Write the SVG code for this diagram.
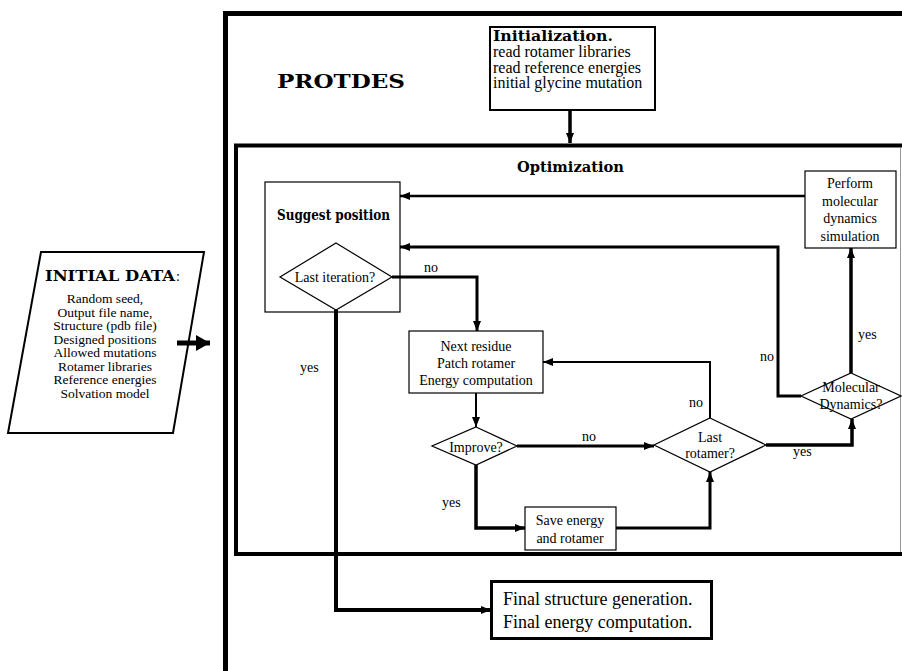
<svg xmlns="http://www.w3.org/2000/svg" width="902" height="671" viewBox="0 0 902 671">
<style>
.t{font-family:"Liberation Serif","Times New Roman",serif;fill:#000}
.b{font-family:"DejaVu Serif","Liberation Serif",serif;font-weight:bold;fill:#000}
.box{fill:#fff;stroke:#000}
.c{fill:none;stroke:#000}
.m{text-anchor:middle}
</style>
<defs>
<marker id="ah" markerUnits="userSpaceOnUse" markerWidth="10" markerHeight="8" refX="10" refY="4" orient="auto"><path d="M0,0 L10,4 L0,8 z" fill="#000"/></marker>
<marker id="big" markerUnits="userSpaceOnUse" markerWidth="14" markerHeight="16" refX="14" refY="8" orient="auto"><path d="M0,0 L14,8 L0,16 z" fill="#000"/></marker>
</defs>
<rect width="902" height="671" fill="#fff"/>

<g id="protdes">
<rect x="225.5" y="13.5" width="720" height="720" fill="none" stroke="#000" stroke-width="5"/>
<text class="b" x="277" y="88" font-size="18" textLength="128" lengthAdjust="spacingAndGlyphs">PROTDES</text>
</g>

<g id="optimization">
<rect x="236" y="145.5" width="720" height="408.5" fill="none" stroke="#000" stroke-width="4"/>
<line x1="900.5" y1="148" x2="900.5" y2="552" stroke="#999" stroke-width="1"/>
<text class="b" x="517" y="172" font-size="15" textLength="107" lengthAdjust="spacingAndGlyphs">Optimization</text>
</g>

<g id="initial-data">
<path d="M41,252 L204,252 L173,433 L8,433 Z" class="box" stroke-width="2"/>
<text class="b" x="45" y="281" font-size="14" textLength="130" lengthAdjust="spacingAndGlyphs">INITIAL DATA</text>
<text class="t" x="176" y="281" font-size="14">:</text>
<g class="t m" font-size="13.5">
<text x="105" y="303">Random seed,</text>
<text x="105" y="316.5">Output file name,</text>
<text x="105" y="330">Structure (pdb file)</text>
<text x="105" y="343.5">Designed positions</text>
<text x="105" y="357">Allowed mutations</text>
<text x="105" y="370.5">Rotamer libraries</text>
<text x="105" y="384">Reference energies</text>
<text x="105" y="397.5">Solvation model</text>
</g>
</g>

<g id="initialization">
<rect x="490" y="27" width="165" height="83" class="box" stroke-width="2"/>
<text class="b" x="493" y="41" font-size="14" textLength="120" lengthAdjust="spacingAndGlyphs">Initialization.</text>
<text class="t" x="493" y="57" font-size="16">read rotamer libraries</text>
<text class="t" x="493" y="72.5" font-size="16">read reference energies</text>
<text class="t" x="493" y="88" font-size="16">initial glycine mutation</text>
</g>

<g id="suggest-position">
<rect x="265" y="182" width="135" height="130" class="box" stroke-width="1.2"/>
<text class="b" x="277" y="220" font-size="14" textLength="113" lengthAdjust="spacingAndGlyphs">Suggest position</text>
</g>

<g id="last-iteration">
<path d="M336,243 L392,277 L336,310 L280,277 Z" class="box" stroke-width="1.2"/>
<text class="t m" x="335" y="282" font-size="14">Last iteration?</text>
</g>

<g id="perform-md">
<rect x="805" y="171" width="91" height="77" class="box" stroke-width="1.2"/>
<g class="t m" font-size="14">
<text x="850" y="188">Perform</text>
<text x="850" y="205.5">molecular</text>
<text x="850" y="223">dynamics</text>
<text x="850" y="240.5">simulation</text>
</g>
</g>

<g id="next-residue">
<rect x="409" y="331" width="134" height="62" class="box" stroke-width="1.2"/>
<g class="t m" font-size="14">
<text x="476" y="351">Next residue</text>
<text x="476" y="368">Patch rotamer</text>
<text x="476" y="385">Energy computation</text>
</g>
</g>

<g id="improve">
<path d="M476,427 L517,446 L476,465 L432,446 Z" class="box" stroke-width="1.2"/>
<text class="t m" x="476" y="452" font-size="14">Improve?</text>
</g>

<g id="last-rotamer">
<path d="M710,418 L766,445 L710,472 L654,445 Z" class="box" stroke-width="1.2"/>
<text class="t m" x="710" y="442" font-size="14">Last</text>
<text class="t m" x="710" y="458" font-size="14">rotamer?</text>
</g>

<g id="molecular-dynamics">
<path d="M851,373 L901,396 L851,419 L801,396 Z" class="box" stroke-width="1.2"/>
<text class="t m" x="851" y="392" font-size="14">Molecular</text>
<text class="t m" x="851" y="409" font-size="14">Dynamics?</text>
</g>

<g id="save-energy">
<rect x="525" y="507" width="91" height="43" class="box" stroke-width="1.2"/>
<text class="t m" x="570" y="525" font-size="14">Save energy</text>
<text class="t m" x="570" y="543" font-size="14">and rotamer</text>
</g>

<g id="final">
<rect x="491.5" y="581.5" width="220" height="57" class="box" stroke-width="3"/>
<text class="t" x="503" y="605" font-size="18">Final structure generation.</text>
<text class="t" x="503" y="628" font-size="18">Final energy computation.</text>
</g>

<g id="connectors">
<path class="c" d="M177,343 H210" stroke-width="5" marker-end="url(#big)"/>
<path class="c" d="M570,110 V143" stroke-width="3.5" marker-end="url(#ah)"/>
<path class="c" d="M805,196 H400" stroke-width="2.5" marker-end="url(#ah)"/>
<path class="c" d="M801,396 H778 V247 H400" stroke-width="3" marker-end="url(#ah)"/>
<path class="c" d="M392,277 H477 V331" stroke-width="3" marker-end="url(#ah)"/>
<path class="c" d="M476,393 V427" stroke-width="2" marker-end="url(#ah)"/>
<path class="c" d="M517,446 H654" stroke-width="3" marker-end="url(#ah)"/>
<path class="c" d="M476,465 V528 H525" stroke-width="3.5" marker-end="url(#ah)"/>
<path class="c" d="M616,528 H710 V472" stroke-width="3" marker-end="url(#ah)"/>
<path class="c" d="M710,418 V362 H543" stroke-width="2" marker-end="url(#ah)"/>
<path class="c" d="M766,445 H852 V419" stroke-width="3.5" marker-end="url(#ah)"/>
<path class="c" d="M851,373 V248" stroke-width="3.5" marker-end="url(#ah)"/>
<path class="c" d="M336,310 V610 H491" stroke-width="4" marker-end="url(#ah)"/>
<g class="t" font-size="14">
<text x="424" y="272">no</text>
<text x="300" y="372">yes</text>
<text x="582" y="441">no</text>
<text x="442" y="507">yes</text>
<text x="689" y="407">no</text>
<text x="793" y="456">yes</text>
<text x="760" y="361">no</text>
<text x="858" y="339">yes</text>
</g>
</g>
</svg>
